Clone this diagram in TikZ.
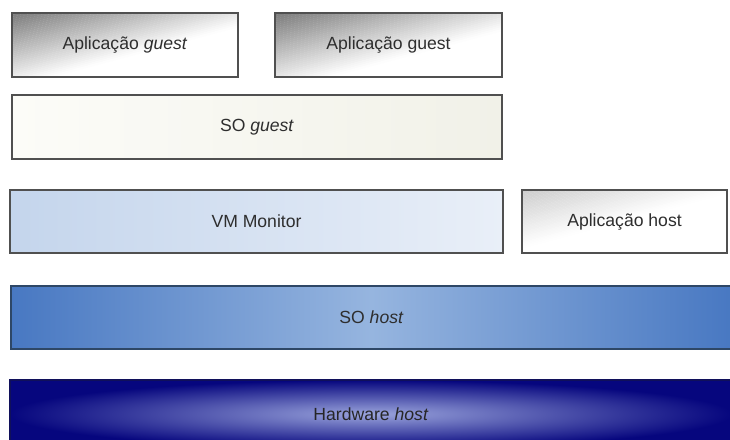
\documentclass[tikz,border=0pt]{standalone}
\usepackage{fontspec}
\setmainfont{Liberation Sans}
\definecolor{edgegray}{HTML}{505050}
\definecolor{txtgray}{HTML}{2E2E2E}
\definecolor{vmleft}{HTML}{C4D5EC}
\definecolor{vmright}{HTML}{E9EFF8}
\definecolor{sohedge}{HTML}{4878C2}
\definecolor{sohmid}{HTML}{96B5DF}
\definecolor{sohline}{HTML}{2E4766}
\definecolor{hwedge}{HTML}{06067E}
\definecolor{hwmid}{HTML}{9AA4DC}
\definecolor{hwline}{HTML}{10105A}
\definecolor{soglight}{HTML}{FCFCF8}
\definecolor{sogdark}{HTML}{F1F1E8}
\tikzset{
  layer/.style={draw=edgegray, line width=1.2pt, inner sep=0pt, text=txtgray,
    font=\fontsize{17.6}{20}\selectfont},
}
% diagonal grey-to-white gradient inside a box: #1,#2 = top-left corner, #3,#4 = bottom-right, #5 = colour, #6 = depth
\newcommand{\diaggrad}[6]{%
  \begin{scope}
    \clip (#1,#2) rectangle (#3,#4);
    \fill[white] (#1,#2) rectangle (#3,#4);
    \colorlet{gradc}{#5}%
    \begin{scope}[shift={(#1,#2)}, rotate=15]
      \foreach \i in {0,...,39}{%
        \pgfmathsetmacro\pct{100*(1-(\i+0.5)/40)}%
        \pgfmathsetmacro\ta{-#6*\i/40}%
        \pgfmathsetmacro\tb{-#6*(\i+1.15)/40}%
        \fill[gradc!\pct!white] (-300,{\ta+(\i==0?40:0)}) rectangle (600,\tb);
      }
    \end{scope}
  \end{scope}}
\begin{document}
\begin{tikzpicture}[x=1pt,y=1pt]
\clip (0,0) rectangle (730,-439);
\fill[white] (0,0) rectangle (730,-439);
\diaggrad{12}{-13}{238}{-77}{black!52}{72}
\diaggrad{275}{-13}{502}{-77}{black!52}{76}
\diaggrad{522}{-190}{727}{-253}{black!20}{56}
\node[layer, minimum width=226pt, minimum height=64pt] (ag1) at (125,-45) {Aplicação \textit{guest}};
\node[layer, minimum width=227pt, minimum height=64pt] (ag2) at (388.5,-45) {Aplicação guest};
\node[layer, left color=soglight, right color=sogdark, minimum width=490pt, minimum height=64pt] (sog) at (257,-127) {SO \textit{guest}};
\node[layer, left color=vmleft, right color=vmright, minimum width=493pt, minimum height=63pt] (vmm) at (256.5,-221.5) {VM Monitor};
\node[layer, minimum width=205pt, minimum height=63pt] (ah) at (624.5,-221.5) {Aplicação host};
\node[layer, draw=sohline, left color=sohedge, right color=sohedge, middle color=sohmid, minimum width=721pt, minimum height=63pt] (soh) at (371.5,-317.5) {SO \textit{host}};
\node[layer, draw=hwline, inner color=hwmid, outer color=hwedge, minimum width=722pt, minimum height=68pt, text=black!85] (hw) at (371,-414) {Hardware \textit{host}};
\end{tikzpicture}
\end{document}
